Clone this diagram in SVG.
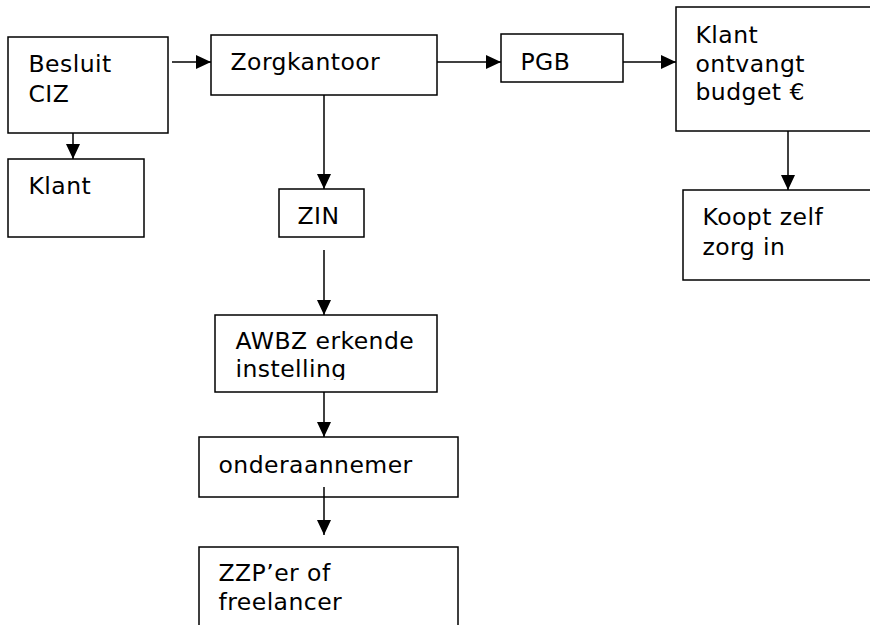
<svg xmlns="http://www.w3.org/2000/svg" width="870" height="626" viewBox="0 0 870 626">
<style>
.box{fill:#fff;stroke:#000;stroke-width:1.5}
.open{fill:none;stroke:#000;stroke-width:1.5}
.t{font-family:"DejaVu Sans",Verdana,sans-serif;font-size:23.5px;letter-spacing:0.45px;fill:#000}
.c{stroke:#000;stroke-width:1.5;fill:none;marker-end:url(#ah)}
</style>
<defs>
<marker id="ah" markerUnits="userSpaceOnUse" markerWidth="15" markerHeight="14" refX="15" refY="7" orient="auto">
<path d="M0,0 L15,7 L0,14 z" fill="#000"/>
</marker>
<clipPath id="clipAwbz"><rect x="215" y="315" width="222" height="65"/></clipPath>
</defs>
<rect width="870" height="626" fill="#fff"/>
<g id="connectors">
<line class="c" x1="172" y1="62" x2="211" y2="62"/>
<line class="c" x1="437" y1="62" x2="501" y2="62"/>
<line class="c" x1="623" y1="62" x2="676" y2="62"/>
<line class="c" x1="73" y1="133" x2="73" y2="159"/>
<line class="c" x1="324" y1="95" x2="324" y2="189"/>
<line class="c" x1="788" y1="131" x2="788" y2="190"/>
<line class="c" x1="324" y1="250" x2="324" y2="315"/>
<line class="c" x1="324" y1="392" x2="324" y2="437"/>
</g>
<g id="besluit">
<rect class="box" x="8" y="37" width="160" height="96"/>
<text class="t" x="28.5" y="72">Besluit</text>
<text class="t" x="28.5" y="102">CIZ</text>
</g>
<g id="klant">
<rect class="box" x="8" y="159" width="136" height="78"/>
<text class="t" x="28.5" y="194">Klant</text>
</g>
<g id="zorgkantoor">
<rect class="box" x="211" y="35" width="226" height="60"/>
<text class="t" x="230.5" y="70">Zorgkantoor</text>
</g>
<g id="pgb">
<rect class="box" x="501" y="34" width="122" height="48"/>
<text class="t" x="520.5" y="70">PGB</text>
</g>
<g id="klantbudget">
<rect class="box" x="676" y="7" width="200" height="124"/>
<text class="t" x="695.5" y="43">Klant</text>
<text class="t" x="695.5" y="72">ontvangt</text>
<text class="t" x="695.5" y="100">budget €</text>
</g>
<g id="koopt">
<rect class="box" x="683" y="190" width="193" height="90"/>
<text class="t" x="702.5" y="225">Koopt zelf</text>
<text class="t" x="702.5" y="255">zorg in</text>
</g>
<g id="zin">
<rect class="box" x="279" y="189" width="85" height="48"/>
<text class="t" x="297.5" y="224">ZIN</text>
</g>
<g id="awbz">
<rect class="box" x="215" y="315" width="222" height="77"/>
<g clip-path="url(#clipAwbz)">
<text class="t" x="235.5" y="349">AWBZ erkende</text>
<text class="t" x="235.5" y="377">instelling</text>
</g>
</g>
<g id="onderaannemer">
<rect class="box" x="199" y="437" width="259" height="60"/>
<text class="t" x="218.5" y="473">onderaannemer</text>
</g>
<line class="c" x1="324" y1="487" x2="324" y2="535"/>
<g id="zzp">
<path class="open" d="M199,625 L199,547 L458,547 L458,625"/>
<text class="t" x="218.5" y="581">ZZP’er of</text>
<text class="t" x="218.5" y="610">freelancer</text>
</g>
</svg>
